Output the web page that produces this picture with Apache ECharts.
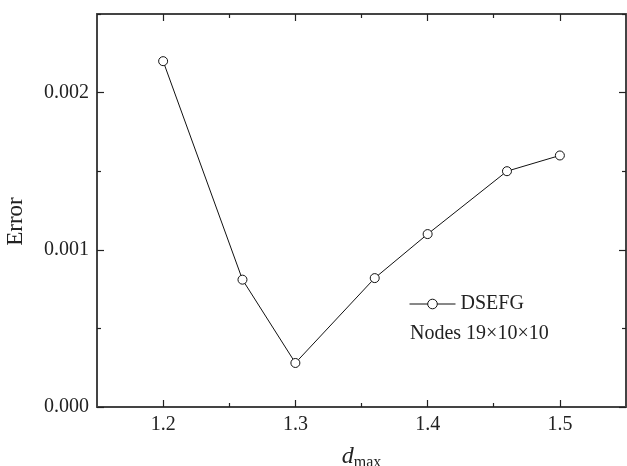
<!DOCTYPE html>
<html>
<head>
<meta charset="utf-8">
<script src="https://cdn.jsdelivr.net/npm/echarts@6/dist/echarts.min.js"></script>
<style>html,body{margin:0;padding:0;background:#fff}#c{width:627px;height:466px}</style>
</head>
<body>
<div id="c"></div>
<script>
const dmax = [1.2, 1.26, 1.3, 1.36, 1.4, 1.46, 1.5];
const errorVals = [0.0022, 0.00081, 0.00028, 0.00082, 0.0011, 0.0015, 0.0016];
const xMajor = [1.2, 1.3, 1.4, 1.5];
const xMinor = [1.25, 1.35, 1.45];
const yMajor = [0, 0.001, 0.002];
const yMinor = [0.0005, 0.0015, 0.0025];
const seriesName = 'DSEFG';
const noteText = 'Nodes 19\u00d710\u00d710';

const FONT = '"Liberation Serif", "Times New Roman", serif';
const AX = '#444';
const chart = echarts.init(document.getElementById('c'));

function xAx(pos, ticks, len, showLabel, showLine, extra) {
  return Object.assign({
    type: 'value', position: pos, min: 1.15, max: 1.55,
    axisLine: { show: showLine, onZero: false, lineStyle: { color: AX, width: 2 } },
    axisTick: { show: true, inside: true, length: len, customValues: ticks, lineStyle: { color: '#222', width: 1.2 } },
    axisLabel: { show: showLabel, customValues: xMajor, fontFamily: FONT, fontSize: 20, color: '#222', margin: 8,
      formatter: v => v.toFixed(1) },
    splitLine: { show: false }
  }, extra || {});
}
function yAx(pos, ticks, len, showLabel, showLine, extra) {
  return Object.assign({
    type: 'value', position: pos, min: 0, max: 0.0025,
    axisLine: { show: showLine, onZero: false, lineStyle: { color: AX, width: 2 } },
    axisTick: { show: true, inside: true, length: len, customValues: ticks, lineStyle: { color: '#222', width: 1.2 } },
    axisLabel: { show: showLabel, customValues: yMajor, fontFamily: FONT, fontSize: 20, color: '#222', margin: 8,
      formatter: v => v.toFixed(3) },
    splitLine: { show: false }
  }, extra || {});
}

chart.setOption({
  animation: false,
  grid: { left: 97, right: 1, top: 14, bottom: 59, outerBoundsMode: 'none', containLabel: false },
  xAxis: [
    xAx('bottom', xMajor, 7, true, true, {
      name: '{d|d}{s|max}', nameLocation: 'middle', nameGap: 36,
      nameTextStyle: { rich: {
        d: { fontFamily: FONT, fontStyle: 'italic', fontSize: 24, color: '#222' },
        s: { fontFamily: FONT, fontSize: 16, color: '#222', padding: [12, 0, 0, 0] }
      } }
    }),
    xAx('bottom', xMinor, 4, false, false),
    xAx('top', xMajor, 7, false, true),
    xAx('top', xMinor, 4, false, false)
  ],
  yAxis: [
    yAx('left', yMajor, 7, true, true, {
      name: 'Error', nameLocation: 'middle', nameGap: 70,
      nameTextStyle: { fontFamily: FONT, fontSize: 23, color: '#222', padding: [0, 22, 0, 0] }
    }),
    yAx('left', yMinor, 4, false, false),
    yAx('right', yMajor, 7, false, true),
    yAx('right', yMinor, 4, false, false)
  ],
  legend: {
    left: 404, top: 289, itemWidth: 46, itemHeight: 12, itemGap: 4,
    textStyle: { fontFamily: FONT, fontSize: 20, color: '#222' },
    lineStyle: { width: 1, color: '#111' },
    itemStyle: { borderWidth: 1, borderColor: '#111', color: '#fff' },
    data: [seriesName]
  },
  graphic: [{
    type: 'text', left: 410, top: 324,
    style: { text: noteText, fontFamily: FONT, fontSize: 20, fill: '#222' }
  }],
  series: [{
    name: seriesName, type: 'line', xAxisIndex: 0, yAxisIndex: 0,
    data: dmax.map((x, i) => [x, errorVals[i]]),
    symbol: 'circle', symbolSize: 9, showAllSymbol: true,
    lineStyle: { color: '#111', width: 1 },
    itemStyle: { color: '#fff', borderColor: '#111', borderWidth: 1 }
  }]
});
</script>
</body>
</html>
